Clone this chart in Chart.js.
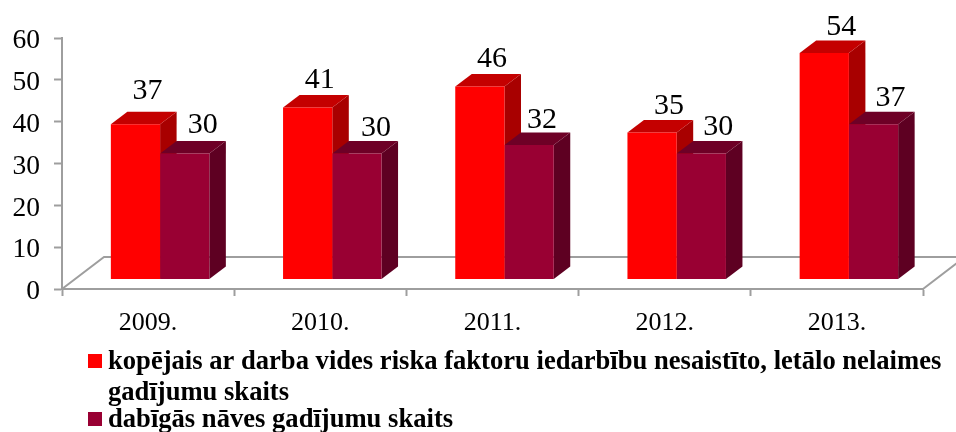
<!DOCTYPE html>
<html>
<head>
<meta charset="utf-8">
<style>
html, body { margin: 0; padding: 0; background: #fff; }
#wrap { width: 956px; height: 432px; }
canvas { display: block; }
</style>
<script src="https://cdn.jsdelivr.net/npm/chart.js@4"></script>
</head>
<body>
<div id="wrap"><canvas id="barChart" width="956" height="432"></canvas></div>
<script>
const years = ["2009.", "2010.", "2011.", "2012.", "2013."];
const totalCases = [37, 41, 46, 35, 54];
const naturalDeaths = [30, 30, 32, 30, 37];
const yTicks = [0, 10, 20, 30, 40, 50, 60];
const totalLabel = ["kopējais ar darba vides riska faktoru iedarbību nesaistīto, letālo nelaimes", "gadījumu skaits"];
const naturalLabel = ["dabīgās nāves gadījumu skaits"];

const serif = "'Liberation Serif', 'Times New Roman', serif";
const axisGrey = "#9e9e9e";
// fake 3d: depth of the columns and floor
const depthX = 16.5, depthY = 12.5;
const floorX = 42, floorY = 32;
const shiftX = 12;
// the labels were moved by hand in the original
const labelNudge = [
    [[-3, -4], [-3, 2], [-3, 2], [2, 3], [2, 3]],
    [[3, 1], [4, 4], [-2, 4], [2, 3], [2, 3]]
];

// shade the depth faces, the front is drawn by chart.js
const columns3d = {
    id: 'columns3d',
    beforeDatasetsDraw(chart) {
        let ctx = chart.ctx, a = chart.chartArea;
        // floor
        ctx.save();
        ctx.strokeStyle = axisGrey;
        ctx.lineWidth = 2;
        ctx.beginPath();
        ctx.moveTo(a.left, a.bottom);
        ctx.lineTo(a.left + floorX, a.bottom - floorY);
        ctx.lineTo(a.right + floorX, a.bottom - floorY);
        ctx.lineTo(a.right, a.bottom);
        ctx.stroke();
        ctx.restore();

        ctx.save();
        ctx.translate(shiftX, 0);
        chart.data.datasets.forEach((ds, i) => {
            chart.getDatasetMeta(i).data.forEach(bar => {
                let l = bar.x - bar.width / 2, r = bar.x + bar.width / 2;
                ctx.fillStyle = ds.sideColor;
                ctx.beginPath();
                ctx.moveTo(r, bar.y);
                ctx.lineTo(r + depthX, bar.y - depthY);
                ctx.lineTo(r + depthX, bar.base - depthY);
                ctx.lineTo(r, bar.base);
                ctx.fill();
                ctx.fillStyle = ds.topColor;
                ctx.beginPath();
                ctx.moveTo(l, bar.y);
                ctx.lineTo(l + depthX, bar.y - depthY);
                ctx.lineTo(r + depthX, bar.y - depthY);
                ctx.lineTo(r, bar.y);
                ctx.fill();
            });
        });
    },
    afterDatasetsDraw(chart) {
        let ctx = chart.ctx;
        ctx.restore();
        ctx.save();
        ctx.fillStyle = "#000";
        ctx.font = "30px " + serif;
        ctx.textAlign = "center";
        ctx.textBaseline = "middle";
        chart.data.datasets.forEach((ds, i) => {
            chart.getDatasetMeta(i).data.forEach((bar, j) => {
                let n = labelNudge[i][j];
                ctx.fillText(ds.data[j], bar.x + shiftX + 15 + n[0], bar.y - 29 + n[1]);
            });
        });
        ctx.restore();
    },
    afterDraw(chart) {
        let ctx = chart.ctx, yAxis = chart.scales.y;
        ctx.save();
        // y tick labels sit a bit low in the original
        ctx.fillStyle = "#000";
        ctx.font = "27.5px " + serif;
        ctx.textAlign = "right";
        ctx.textBaseline = "middle";
        yAxis.ticks.forEach(t => ctx.fillText(t.value, 40, yAxis.getPixelForValue(t.value) + 3));

        ctx.textBaseline = "alphabetic";
        ctx.textAlign = "left";
        ctx.font = "bold 26.6px " + serif;
        let rows = [[totalLabel, 354], [naturalLabel, 412]];
        chart.data.datasets.forEach((ds, i) => {
            let y = rows[i][1];
            ctx.fillStyle = ds.backgroundColor;
            ctx.fillRect(88, y, 14, 14);
            ctx.fillStyle = "#000";
            rows[i][0].forEach((line, k) => ctx.fillText(line, 108, y + 15 + k * 31));
        });
        ctx.restore();
    }
};

new Chart(document.getElementById("barChart").getContext("2d"), {
    type: 'bar',
    data: {
        labels: years,
        datasets: [
            { label: totalLabel.join(" "), data: totalCases, backgroundColor: "#ff0000", sideColor: "#a80000", topColor: "#c40000", yAxisID: 'yBars' },
            { label: naturalLabel[0], data: naturalDeaths, backgroundColor: "#990033", sideColor: "#5e0022", topColor: "#6e0026", yAxisID: 'yBars' }
        ]
    },
    options: {
        responsive: false,
        animation: false,
        layout: { padding: { left: 0, top: 38, right: 33, bottom: 0 } },
        datasets: { bar: { categoryPercentage: 0.572, barPercentage: 1 } },
        plugins: { legend: { display: false }, tooltip: { enabled: false } },
        scales: {
            x: {
                afterFit(axis) { axis.height = 143; },
                grid: { drawOnChartArea: false, tickLength: 7, tickColor: axisGrey, tickWidth: 2 },
                border: { color: axisGrey, width: 2 },
                ticks: { color: "#000", font: { family: serif, size: 26 }, padding: 12, maxRotation: 0 }
            },
            y: {
                position: 'left',
                min: 0, max: 60,
                afterBuildTicks(axis) { axis.ticks = yTicks.map(v => ({ value: v })); },
                afterFit(axis) { axis.width = 62; },
                grid: { drawOnChartArea: false, tickLength: 8, tickColor: axisGrey, tickWidth: 2 },
                border: { color: axisGrey, width: 2 },
                ticks: { display: false }
            },
            // the columns stand on the floor, 10px in front of the axis zero
            yBars: { display: false, min: -2.4, max: 57.6 }
        }
    },
    plugins: [columns3d]
});
</script>
</body>
</html>
